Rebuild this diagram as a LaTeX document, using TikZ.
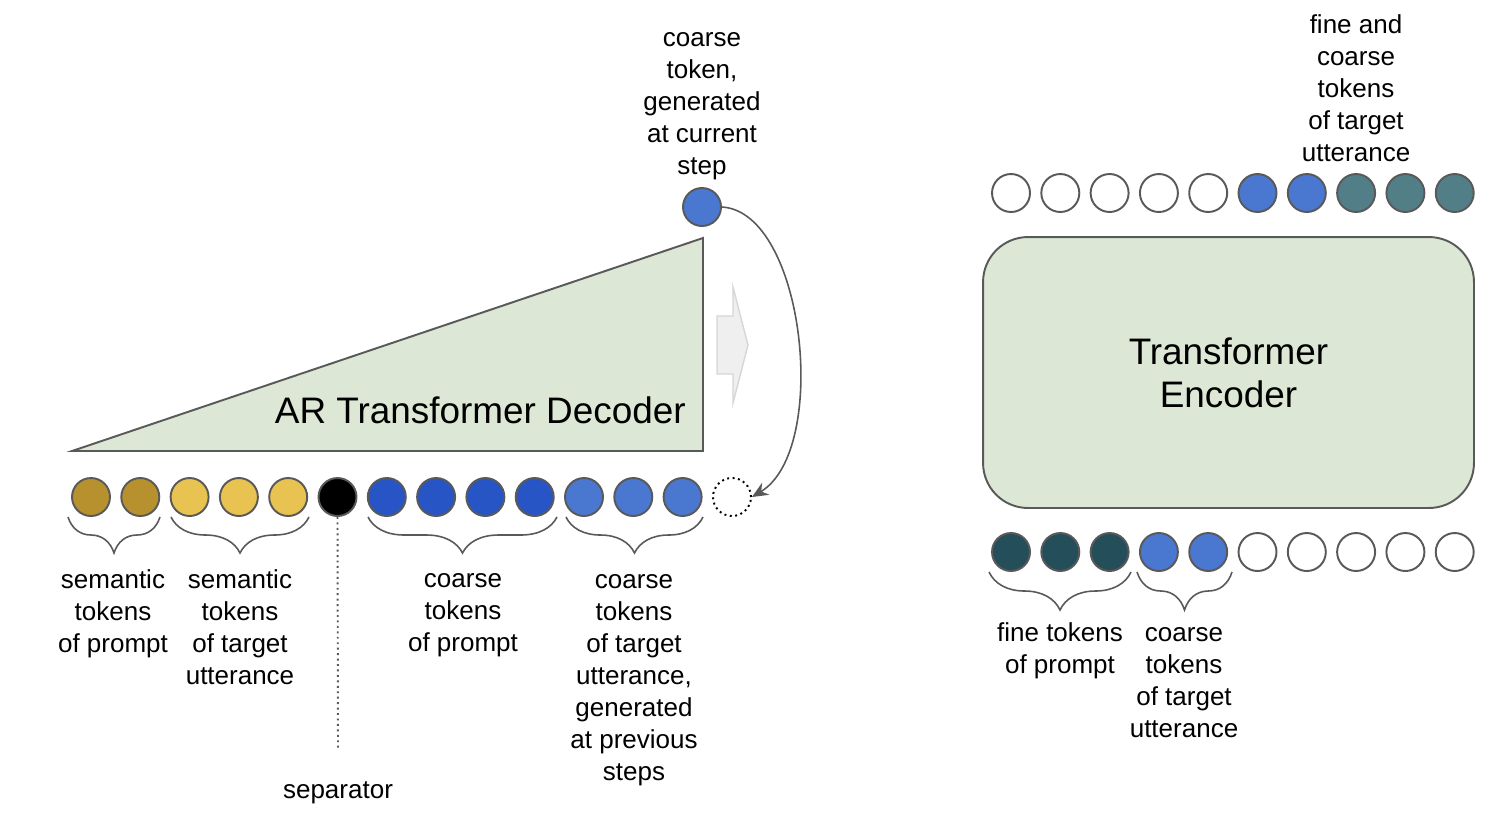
\documentclass[tikz,border=0pt]{standalone}
\usepackage{fontspec}
\setmainfont{Liberation Sans}
\usepackage{xcolor}
\usepackage{tikz}
\usetikzlibrary{arrows.meta}
\usetikzlibrary{calc}
\usetikzlibrary{decorations.pathreplacing}

\definecolor{gold}{HTML}{B8912F}
\definecolor{yellow}{HTML}{E8C352}
\definecolor{coarsedark}{HTML}{2855C6}
\definecolor{coarse}{HTML}{4A77D0}
\definecolor{teal}{HTML}{527F87}
\definecolor{darkteal}{HTML}{244E59}
\definecolor{boxgreen}{HTML}{DCE8D5}
\definecolor{linegray}{HTML}{595959}
\definecolor{arrowgray}{HTML}{EFEFEF}
\definecolor{arrowline}{HTML}{D6D6D6}

\begin{document}
\begin{tikzpicture}[x=0.02cm, y=-0.02cm,
    tok/.style={circle, draw=linegray, line width=1.1pt, minimum size=0.76cm, inner sep=0pt},
    lbl/.style={align=center, font=\fontsize{14.8}{18.2}\selectfont, inner sep=0pt},
    big/.style={align=center, font=\fontsize{21}{24.4}\selectfont, inner sep=0pt},
    brc/.style={draw=linegray, line width=0.9pt, decorate, decoration={brace, mirror, amplitude=#1}},
    brc/.default=0.72cm]
    \useasboundingbox (0,0) rectangle (1506,816);
    \filldraw[fill=boxgreen, draw=linegray, line width=1.1pt] (72,451) -- (703,238) -- (703,451) -- cycle;
    \node[big, anchor=east] (dec) at (686,410) {AR Transformer Decoder};
    \filldraw[fill=arrowgray, draw=arrowline, line width=0.8pt] (717,316) -- (733,316) -- (733,287) -- (748,345) -- (733,403) -- (733,374) -- (717,374) -- cycle;
    \foreach \i/\c in {1/gold,2/gold,3/yellow,4/yellow,5/yellow,6/black,7/coarsedark,8/coarsedark,9/coarsedark,10/coarsedark,11/coarse,12/coarse,13/coarse}
        \node[tok, fill=\c] (d\i) at ({91+(\i-1)*49.3},497) {};
    \node[tok, draw=black, dotted, line width=1.1pt] (d14) at (732,497) {};
    \node[tok, fill=coarse] (cur) at (702,207) {};
    \draw [-{Stealth[length=0.32cm, width=0.28cm]}, color=linegray, line width=0.9pt] (cur.east) .. controls (805,212) and (830,450) .. (d14.east);
    \coordinate (sepend) at (338,750);
    \draw [linegray, dotted, line width=1.1pt] (d6.south) -- (sepend);
    \draw[brc] (68,517) -- (160,517);
    \draw[brc] (171,517) -- (309,517);
    \draw[brc] (368,517) -- (557,517);
    \draw[brc] (566,517) -- (703,517);
    \node[lbl] (l1) at (113,614) {semantic\\tokens\\of prompt};
    \node[lbl] (l2) at (240,627) {semantic\\tokens\\of target\\utterance};
    \node[lbl] (l3) at (463,615) {coarse\\tokens\\of prompt};
    \node[lbl] (l4) at (634,680) {coarse\\tokens\\of target\\utterance,\\generated\\at previous\\steps};
    \node[lbl] (sep) at (338,793) {separator};
    \node[lbl] (lcur) at (702,106) {coarse\\token,\\generated\\at current\\step};
    \node[big, draw=linegray, fill=boxgreen, rounded corners=0.9cm, line width=1.1pt, minimum width=9.82cm, minimum height=5.42cm] (enc) at (1228.5,372.5) {Transformer\\Encoder};
    \foreach \i/\c in {1/white,2/white,3/white,4/white,5/white,6/coarse,7/coarse,8/teal,9/teal,10/teal}
        \node[tok, fill=\c] (e\i) at ({1011+(\i-1)*49.3},193) {};
    \foreach \i/\c in {1/darkteal,2/darkteal,3/darkteal,4/coarse,5/coarse,6/white,7/white,8/white,9/white,10/white}
        \node[tok, fill=\c] (f\i) at ({1011+(\i-1)*49.3},552) {};
    \draw[brc=0.76cm] (989,572) -- (1131,572);
    \draw[brc=0.76cm] (1137,572) -- (1232,572);
    \node[lbl] (r1) at (1060,651) {fine tokens\\of prompt};
    \node[lbl] (r2) at (1184,683) {coarse\\tokens\\of target\\utterance};
    \node[lbl] (rtop) at (1356,88) {fine and\\coarse\\tokens\\of target\\utterance};
\end{tikzpicture}
\end{document}
